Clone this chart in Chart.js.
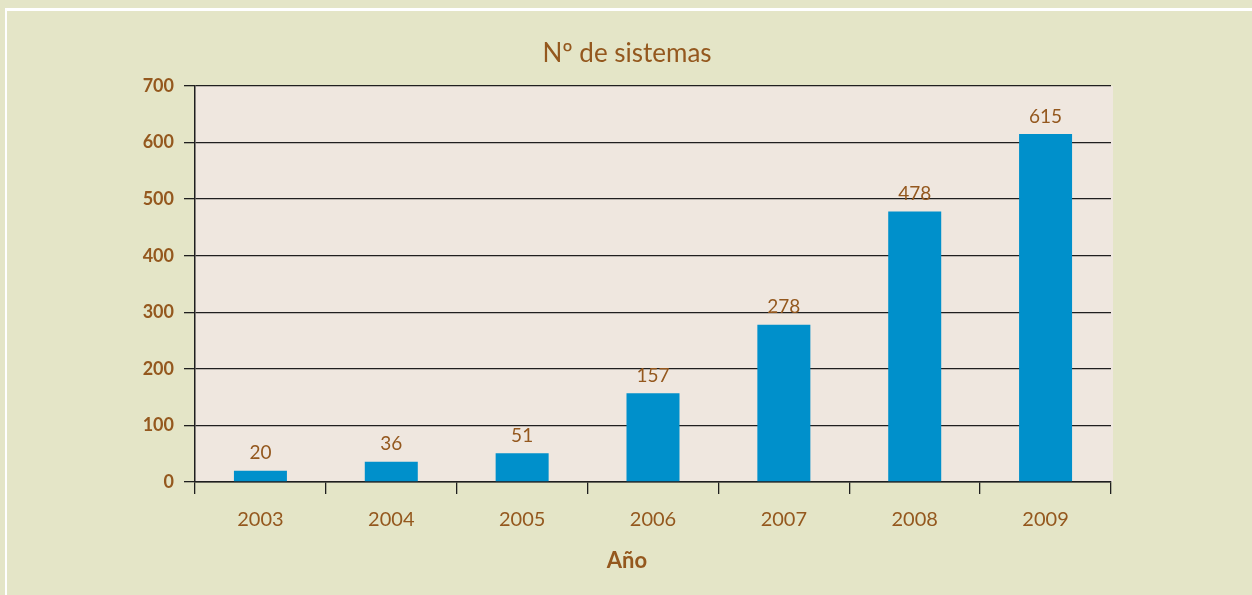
<!DOCTYPE html>
<html>
<head>
<meta charset="utf-8">
<script src="https://cdn.jsdelivr.net/npm/chart.js@4"></script>
<style>
  html, body { margin: 0; padding: 0; background: #e4e5c7; }
  #wrap { width: 1252px; height: 595px; }
</style>
</head>
<body>
<div id="wrap"><canvas id="chart" width="1252" height="595"></canvas></div>
<script>
const years = ['2003', '2004', '2005', '2006', '2007', '2008', '2009'];
const systems = [20, 36, 51, 157, 278, 478, 615];
const yTicks = [0, 100, 200, 300, 400, 500, 600, 700];
const chartTitle = 'Nº de sistemas';
const xTitle = 'Año';

const TEXT = '#94581e';
const LINE = '#1f1f1f';
const FONT = 'Lato, "Open Sans", sans-serif';

// page frame, plot fill, titles and value labels
const decor = {
  id: 'decor',
  beforeDraw(chart) {
    const { ctx, chartArea } = chart;
    ctx.save();
    ctx.fillStyle = '#e4e5c7';
    ctx.fillRect(0, 0, chart.width, chart.height);
    ctx.fillStyle = '#ffffff';
    ctx.fillRect(5, 8, chart.width - 5, 3);
    ctx.fillRect(5, 8, 2, chart.height - 8);
    ctx.fillStyle = '#efe7df';
    ctx.fillRect(chartArea.left, chartArea.top, chartArea.right - chartArea.left + 2, chartArea.bottom - chartArea.top);
    ctx.restore();
  },
  afterDraw(chart) {
    const { ctx } = chart;
    const mid = chart.width / 2;
    ctx.save();
    ctx.fillStyle = TEXT;
    ctx.textAlign = 'center';
    ctx.textBaseline = 'middle';
    ctx.font = '26px ' + FONT;
    ctx.fillText(chartTitle, mid + 1, 54);
    ctx.font = 'bold 22px ' + FONT;
    ctx.fillText(xTitle, mid + 1, 561);
    ctx.restore();
  },
  afterDatasetsDraw(chart) {
    const { ctx } = chart;
    const meta = chart.getDatasetMeta(0);
    ctx.save();
    ctx.fillStyle = TEXT;
    ctx.font = '19px ' + FONT;
    ctx.textAlign = 'center';
    ctx.textBaseline = 'bottom';
    meta.data.forEach((bar, i) => {
      ctx.fillText(String(systems[i]), bar.x, bar.y - 8);
    });
    ctx.restore();
  },
};

new Chart(document.getElementById('chart'), {
  type: 'bar',
  data: {
    labels: years,
    datasets: [{
      data: systems,
      backgroundColor: '#0090cb',
      categoryPercentage: 1,
      barPercentage: 0.405,
    }],
  },
  options: {
    responsive: false,
    animation: false,
    layout: { padding: { left: 0, right: 141, top: 86, bottom: 53 } },
    plugins: {
      legend: { display: false },
      tooltip: { enabled: false },
      title: { display: false },
    },
    scales: {
      x: {
        grid: {
          display: true,
          drawOnChartArea: false,
          drawTicks: true,
          tickLength: 12,
          color: LINE,
          lineWidth: 1.3,
        },
        border: { display: true, color: LINE, width: 1.5 },
        ticks: {
          color: TEXT,
          font: { family: FONT, size: 20 },
          padding: 14,
        },
        afterFit(scale) { scale.height = 595 - 53 - 482; },
      },
      y: {
        min: 0,
        max: 700,
        afterBuildTicks(scale) { scale.ticks = yTicks.map((v) => ({ value: v })); },
        grid: {
          color: LINE,
          lineWidth: 1.3,
          tickLength: 11,
        },
        border: { display: true, color: LINE, width: 1.5 },
        ticks: {
          color: TEXT,
          font: { family: FONT, size: 18, weight: 'bold' },
          padding: 10,
        },
        afterFit(scale) { scale.width = 195; },
      },
    },
  },
  plugins: [decor],
});
</script>
</body>
</html>
